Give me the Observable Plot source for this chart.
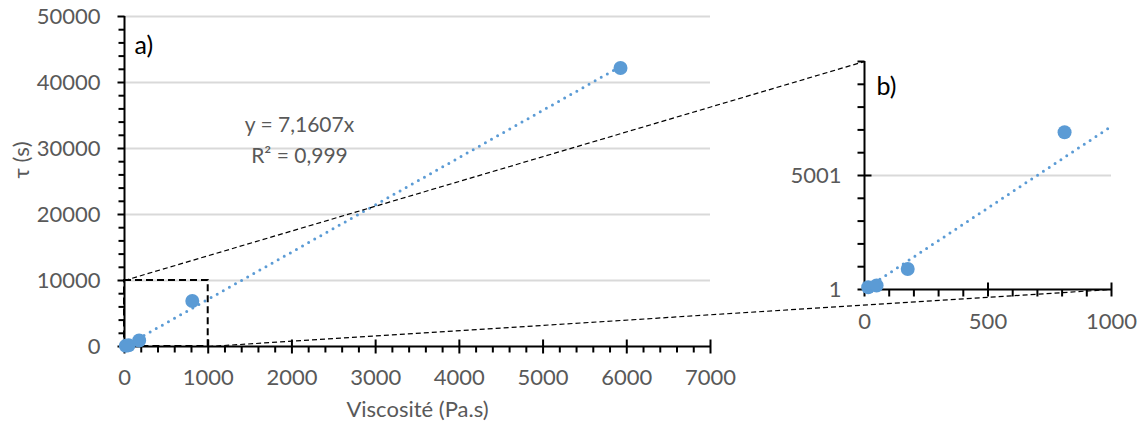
<!DOCTYPE html>
<html><head><meta charset="utf-8">
<script src="https://cdn.jsdelivr.net/npm/d3@7"></script>
<script src="https://cdn.jsdelivr.net/npm/@observablehq/plot@0.6"></script>
<style>
body{margin:0;background:#fff;}
#chart{position:relative;width:1143px;height:430px;}
#chart svg{position:absolute;left:0;top:0;}
</style>
</head><body><div id="chart"></div>
<script>
// ---- data ----
const viscosite = [15, 49, 175, 810, 5925];      // Pa.s
const tau = [100, 175, 900, 6900, 42200];         // s
const slope = 7.1607;
const equationText = "y = 7,1607x";
const r2Text = "R² = 0,999";
const xTicksA = [0, 1000, 2000, 3000, 4000, 5000, 6000, 7000];
const yTicksA = [0, 10000, 20000, 30000, 40000, 50000];
const xTicksB = [0, 500, 1000];
const yTicksB = [1, 5001];
const xDomainB = [0, 1000];
const yDomainB = [1, 10001];
const zoomBoxX = [0, 1000];
const zoomBoxY = [0, 10000];

// ---- derived ----
const points = viscosite.map((x, i) => ({x, y: tau[i]}));
const xMinorA = d3.range(0, 7001, 200).filter(v => !xTicksA.includes(v));
const yMinorA = d3.range(0, 50001, 2000).filter(v => !yTicksA.includes(v));
const xMinorB = d3.range(0, 1001, 100).filter(v => !xTicksB.includes(v));
const yMinorB = d3.range(1, 10002, 1000).filter(v => !yTicksB.includes(v));
const xMin = d3.min(viscosite), xMax = d3.max(viscosite);
const trendA = [xMin, xMax].map(x => ({x, y: slope * x}));
const trendB = [xMin, xDomainB[1]].map(x => ({x, y: slope * x}));
const pointsB = points.filter(d => d.x <= xDomainB[1] && d.y <= yDomainB[1]);

const BLUE = "#5B9BD5", GREY = "#595959", GRID = "#D9D9D9";
const W = 1143, H = 430;

// custom tick symbols
const len = s => Math.sqrt(s / Math.PI);
const vCross = {draw(c, s){ const h = len(s); c.moveTo(0, -h); c.lineTo(0, h); }};
const vDown  = {draw(c, s){ const h = len(s); c.moveTo(0, 0); c.lineTo(0, h); }};
const hCross = {draw(c, s){ const h = len(s); c.moveTo(-h, 0); c.lineTo(h, 0); }};
const hLeft  = {draw(c, s){ const h = len(s); c.moveTo(-h, 0); c.lineTo(0, 0); }};

const font = {fontFamily: "Lato, 'Open Sans', sans-serif", fontSize: "22px", color: GREY, background: "transparent", overflow: "visible"};

// ---- panel a ----
const pa = Plot.plot({
  width: W, height: H,
  marginLeft: 124, marginRight: 433, marginTop: 16, marginBottom: 84,
  x: {domain: [0, 7000], axis: null},
  y: {domain: [0, 50000], axis: null},
  style: font,
  marks: [
    Plot.ruleY(yTicksA.filter(v => v > 0), {stroke: GRID, strokeWidth: 2}),
    Plot.rect([0], {x1: zoomBoxX[0], x2: zoomBoxX[1], y1: zoomBoxY[0], y2: zoomBoxY[1],
      fill: "none", stroke: "black", strokeWidth: 2, strokeDasharray: "7,4"}),
    Plot.ruleY([0], {stroke: "black", strokeWidth: 2}),
    Plot.ruleX([0], {stroke: "black", strokeWidth: 2}),
    Plot.dot(xTicksA, {x: d => d, y: 0, symbol: vCross, r: 7, stroke: "black", strokeWidth: 2, fill: "none"}),
    Plot.dot(xMinorA, {x: d => d, y: 0, symbol: vDown, r: 6, stroke: "black", strokeWidth: 2, fill: "none"}),
    Plot.dot(yTicksA, {x: 0, y: d => d, symbol: hLeft, r: 7, stroke: "black", strokeWidth: 2, fill: "none"}),
    Plot.dot(yMinorA, {x: 0, y: d => d, symbol: hLeft, r: 6, stroke: "black", strokeWidth: 2, fill: "none"}),
    Plot.text(xTicksA, {x: d => d, y: 0, dy: 31, text: d => String(d), fill: GREY}),
    Plot.text(yTicksA, {x: 0, y: d => d, dx: -24, textAnchor: "end", text: d => String(d), fill: GREY}),
    Plot.line(trendA, {x: "x", y: "y", stroke: BLUE, strokeWidth: 3, strokeDasharray: "0,7", strokeLinecap: "round"}),
    Plot.dot(points, {x: "x", y: "y", r: 7, fill: BLUE}),
    Plot.text([equationText + "\n" + r2Text], {x: 2090, y: 31600, text: d => d, fontSize: 21, lineHeight: 1.45, fill: GREY}),
    Plot.text(["a)"], {frameAnchor: "top-left", dx: 10, dy: 20, text: d => d, textAnchor: "start", fill: "black", fontSize: 25}),
    Plot.text(["Viscosité (Pa.s)"], {frameAnchor: "bottom", dy: 70, text: d => d, fill: GREY}),
    Plot.text(["τ (s)"], {frameAnchor: "left", dx: -103, dy: -3, rotate: -90, text: d => d, fill: GREY})
  ]
});

// ---- panel b ----
function makeB(extra) {
  return Plot.plot({
    width: W, height: H,
    marginLeft: 864, marginRight: 32, marginTop: 61, marginBottom: 141,
    x: {domain: xDomainB, axis: null},
    y: {domain: yDomainB, axis: null},
    style: font,
    marks: [
      ...extra,
      Plot.ruleY(yTicksB.filter(v => v > yDomainB[0]), {stroke: GRID, strokeWidth: 2}),
      Plot.ruleY([yDomainB[0]], {stroke: "black", strokeWidth: 2}),
      Plot.ruleX([xDomainB[0]], {stroke: "black", strokeWidth: 2}),
      Plot.dot(xTicksB, {x: d => d, y: yDomainB[0], symbol: vCross, r: 7, stroke: "black", strokeWidth: 2, fill: "none"}),
      Plot.dot(xMinorB, {x: d => d, y: yDomainB[0], symbol: vDown, r: 7, stroke: "black", strokeWidth: 2, fill: "none"}),
      Plot.dot(yTicksB, {x: xDomainB[0], y: d => d, symbol: hCross, r: 7, stroke: "black", strokeWidth: 2, fill: "none"}),
      Plot.dot(yMinorB, {x: xDomainB[0], y: d => d, symbol: hLeft, r: 7, stroke: "black", strokeWidth: 2, fill: "none"}),
      Plot.text(xTicksB, {x: d => d, y: yDomainB[0], dy: 32, text: d => String(d), fill: GREY}),
      Plot.text(yTicksB, {x: xDomainB[0], y: d => d, dx: -23, textAnchor: "end", text: d => String(d), fill: GREY}),
      Plot.line(trendB, {x: "x", y: "y", stroke: BLUE, strokeWidth: 3, strokeDasharray: "0,7", strokeLinecap: "round"}),
      Plot.dot(pointsB, {x: "x", y: "y", r: 7, fill: BLUE}),
      Plot.text(["b)"], {frameAnchor: "top-left", dx: 12, dy: 16, text: d => d, textAnchor: "start", fill: "black", fontSize: 25})
    ]
  });
}
const probe = makeB([]);
const ax = pa.scale("x"), ay = pa.scale("y");
const bx = probe.scale("x"), by = probe.scale("y");
const connectors = [
  {x1: bx.invert(ax.apply(zoomBoxX[0])), y1: by.invert(ay.apply(zoomBoxY[1])), x2: xDomainB[0], y2: yDomainB[1]},
  {x1: bx.invert(ax.apply(zoomBoxX[1])), y1: by.invert(ay.apply(zoomBoxY[0])), x2: xDomainB[1], y2: yDomainB[0]}
];
const pb = makeB([
  Plot.link(connectors, {x1: "x1", y1: "y1", x2: "x2", y2: "y2", stroke: "black", strokeWidth: 1.2, strokeDasharray: "5,3"})
]);

const chart = document.getElementById("chart");
chart.append(pa, pb);
</script>
</body></html>
